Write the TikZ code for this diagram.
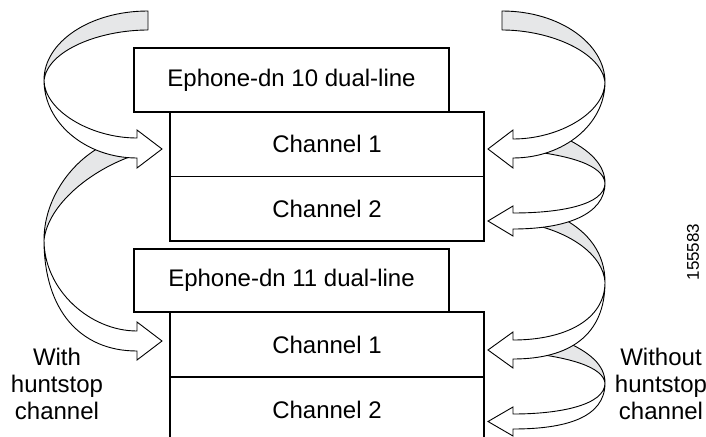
\documentclass[tikz,border=0pt]{standalone}
\usepackage{fontspec}
\setmainfont{Liberation Sans}
\definecolor{ribbongray}{HTML}{E6E7E8}
\begin{document}
\begin{tikzpicture}[x=1pt,y=-1pt,
  boxbase/.style={draw, line width=1.8pt, inner sep=0pt, font=\fontsize{24}{28}\selectfont},
  hdr/.style={boxbase, minimum width=315pt, minimum height=64pt},
  chan/.style={boxbase, minimum width=314pt, minimum height=64.5pt},
  back/.style={draw, line width=0.9pt, fill=ribbongray, line join=round},
  front/.style={draw, line width=0.9pt, fill=white, line join=miter},
  sidelabel/.style={align=center, inner sep=0pt, font=\fontsize{24}{27}\selectfont},
  figid/.style={rotate=90, inner sep=0pt, font=\fontsize{17}{19}\selectfont}]
\useasboundingbox (0,0) rectangle (706,436);

% boxes
\node[hdr]  (h1)  at (291.5,80)    {Ephone-dn 10 dual-line};
\node[chan] (c11) at (327,144.25)  {Channel 1};
\node[chan] (c12) at (327,208.75)  {Channel 2};
\node[hdr, minimum height=63.5pt] (h2) at (291.5,280.5) {Ephone-dn 11 dual-line};
\node[chan] (c21) at (327,344.5)   {Channel 1};
\node[chan] (c22) at (327,409.5)   {Channel 2};

% left ribbons (lower first)
\draw[back] (102,146) .. controls (70,163) and (44,200) .. (44,240)
            .. controls (48,205) and (90,170) .. (135,155) -- cycle;
\draw[front] (44,240) .. controls (44,310) and (80,351) .. (137,351) -- (137,360) -- (162,341)
            -- (137,322) -- (137,331) .. controls (90,331) and (44,290) .. (44,240) -- cycle;
\draw[back] (148,11) .. controls (90,11) and (44,42) .. (44,80)
            .. controls (48,50) and (100,30) .. (148,30) -- cycle;
\draw[front] (44,80) .. controls (44,123) and (86,158) .. (137,158) -- (137,168) -- (162,149)
            -- (137,130) -- (137,138) .. controls (90,138) and (44,110) .. (44,80) -- cycle;

% right ribbons (lower first)
\draw[back] (562,340) .. controls (590,352) and (605,365) .. (605,383)
            .. controls (603,367) and (570,357) .. (520,352) -- cycle;
\draw[front] (605,383) .. controls (605,418) and (565,429) .. (513,429) -- (513,436) -- (488,421.5)
            -- (513,407) -- (513,414) .. controls (560,414) and (605,405) .. (605,383) -- cycle;
\draw[back] (560,217) .. controls (590,232) and (605,255) .. (605,282)
            .. controls (603,255) and (570,230) .. (520,222) -- cycle;
\draw[front] (605,282) .. controls (605,335) and (570,359) .. (513,359) -- (513,368) -- (488,350)
            -- (513,332) -- (513,340) .. controls (565,340) and (605,320) .. (605,282) -- cycle;
\draw[back] (565,138) .. controls (590,150) and (605,165) .. (605,183)
            .. controls (603,165) and (570,155) .. (520,150) -- cycle;
\draw[front] (605,183) .. controls (605,215) and (565,229) .. (513,229) -- (513,236) -- (488,221)
            -- (513,206) -- (513,213) .. controls (560,213) and (605,205) .. (605,183) -- cycle;
\draw[back] (502,11) .. controls (560,11) and (605,44) .. (605,82)
            .. controls (601,52) and (550,30) .. (502,30) -- cycle;
\draw[front] (605,82) .. controls (605,124) and (564,158) .. (513,158) -- (513,168) -- (488,149)
            -- (513,130) -- (513,139) .. controls (560,139) and (605,112) .. (605,82) -- cycle;

% labels
\node[sidelabel] (lwith) at (57,384) {With\\huntstop\\channel};
\node[sidelabel] (lwithout) at (661,384) {Without\\huntstop\\channel};
\node[figid] (fid) at (693,252) {155583};
\end{tikzpicture}
\end{document}
